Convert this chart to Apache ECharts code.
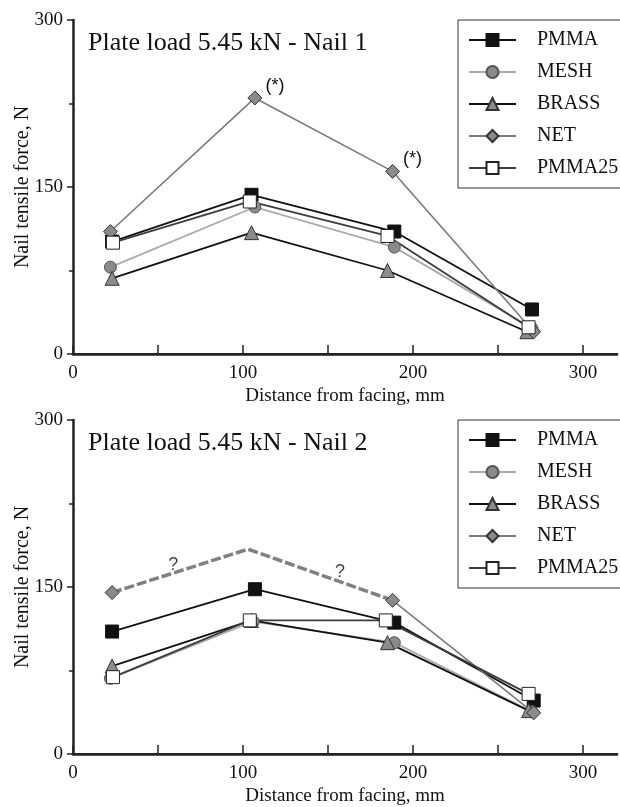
<!DOCTYPE html>
<html>
<head>
<meta charset="utf-8">
<script src="https://cdn.jsdelivr.net/npm/echarts@6/dist/echarts.min.js"></script>
<style>
  html, body { margin: 0; padding: 0; background: #fff; }
  #chart { width: 620px; height: 807px; }
</style>
</head>
<body>
<div id="chart"></div>
<script>
// legend order
const seriesNames = ['PMMA', 'MESH', 'BRASS', 'NET', 'PMMA25'];

// Nail 1 : [distance from facing (mm), nail tensile force (N)]
const pmma1 = [[23, 101], [105, 143], [189, 110], [270, 40]];
const mesh1 = [[22, 78], [107, 132], [189, 96], [270, 23]];
const brass1 = [[23, 68], [105, 109], [185, 75], [267, 20]];
const net1 = [[22, 110], [107, 230], [188, 164], [271, 20]];
const pmma25_1 = [[23.5, 100], [104, 137], [185, 106], [268, 24]];
const net1Starred = [1, 2]; // points marked (*)

// Nail 2
const pmma2 = [[23, 110], [107, 148], [189, 118], [271, 48]];
const mesh2 = [[22, 68], [106, 119], [189, 100], [270, 38]];
const brass2 = [[23, 79], [105, 120], [185, 100], [268, 39]];
const net2 = [[23, 145], [188, 138], [271, 37]];
const net2Guess = [[23, 145], [103, 184], [188, 138]]; // dashed "?" estimate
const pmma25_2 = [[23.5, 69], [104, 120], [184, 120], [268, 54]];
const questionMarks = [[59, 170], [157, 163]];

const titles = ['Plate load 5.45 kN - Nail 1', 'Plate load 5.45 kN - Nail 2'];
const xTicks = [0, 50, 100, 150, 200, 250, 300];
const xLabels = [0, 100, 200, 300];
const yLabels = [0, 150, 300];
const yMinor = [75, 225];

const serif = 'Liberation Serif';
const sans = 'Liberation Sans';

const styles = {
  PMMA:   { symbol: 'rect',     size: 13, line: '#111', width: 1.8, fill: '#111', border: '#111' },
  MESH:   { symbol: 'circle',   size: 12, line: '#aaa', width: 1.8, fill: '#8a8a8a', border: '#555' },
  BRASS:  { symbol: 'triangle', size: 14, line: '#111', width: 1.8, fill: '#8c8c8c', border: '#333' },
  NET:    { symbol: 'diamond',  size: 14, line: '#7a7a7a', width: 1.6, fill: '#8a8a8a', border: '#333' },
  PMMA25: { symbol: 'rect',     size: 13, line: '#3c3c3c', width: 1.8, fill: '#fff', border: '#222' }
};

function lineSeries(name, data, g) {
  const st = styles[name];
  return {
    name: name,
    type: 'line',
    xAxisIndex: 2 * g,
    yAxisIndex: 2 * g,
    data: data,
    symbol: st.symbol,
    symbolSize: st.size,
    showAllSymbol: true,
    lineStyle: { color: st.line, width: st.width },
    itemStyle: { color: st.fill, borderColor: st.border, borderWidth: 1 },
    emphasis: { disabled: true }
  };
}

const grids = [];
const xAxes = [];
const yAxes = [];
const legends = [];
const titleList = [];
[20, 420].forEach((top, g) => {
  grids.push({ left: 73, top: top, width: 544, height: 334, outerBoundsMode: 'none' });
  xAxes.push({
    type: 'value', gridIndex: g, min: 0, max: 320,
    name: 'Distance from facing, mm', nameLocation: 'middle', nameGap: 33,
    nameTextStyle: { fontFamily: serif, fontSize: 19, color: '#111' },
    axisLine: { lineStyle: { color: '#222', width: 2.5 } },
    axisTick: { inside: true, length: 9, customValues: xTicks, lineStyle: { color: '#222', width: 1.5 } },
    axisLabel: { customValues: xLabels, margin: 10, fontFamily: serif, fontSize: 19, color: '#111' },
    splitLine: { show: false }
  });
  xAxes.push({
    type: 'value', gridIndex: g, position: 'top', min: 0, max: 320,
    axisLine: { show: true, lineStyle: { color: '#222', width: 2 } },
    axisTick: { show: false }, axisLabel: { show: false }, splitLine: { show: false }
  });
  yAxes.push({
    type: 'value', gridIndex: g, min: 0, max: 300,
    name: 'Nail tensile force, N', nameLocation: 'middle', nameGap: 40, nameMoveOverlap: false,
    nameTextStyle: { fontFamily: serif, fontSize: 20, color: '#111' },
    axisLine: { show: true, lineStyle: { color: '#222', width: 2.5 } },
    axisTick: { show: true, length: 6, customValues: yLabels, lineStyle: { color: '#222', width: 1.5 } },
    axisLabel: { customValues: yLabels, margin: 10, fontFamily: serif, fontSize: 19, color: '#111' },
    splitLine: { show: false }
  });
  yAxes.push({
    type: 'value', gridIndex: g, min: 0, max: 300,
    axisLine: { show: false },
    axisTick: { show: true, inside: true, length: 4, customValues: yMinor, lineStyle: { color: '#222', width: 1.5 } },
    axisLabel: { show: false }, splitLine: { show: false }
  });
  legends.push({
    data: seriesNames, orient: 'vertical', left: 458, top: top,
    padding: [10, 40, 10, 10], itemWidth: 47, itemHeight: 15, itemGap: 12,
    borderColor: '#333', borderWidth: 1, selectedMode: false,
    textStyle: { fontFamily: serif, fontSize: 20, color: '#111', lineHeight: 20, padding: [0, 0, 0, 16] }
  });
  titleList.push({
    text: titles[g], left: 88, top: top + 10, padding: 0,
    textStyle: { fontFamily: serif, fontSize: 26, fontWeight: 'normal', color: '#111' }
  });
});

const net1Data = net1.map((p, i) => net1Starred.includes(i)
  ? { value: p, label: { show: true, formatter: '(*)', position: 'right', offset: [-2, -12],
      fontFamily: sans, fontSize: 18, color: '#111' } }
  : p);

// break NET line where only the estimate exists
const net2Data = [net2[0], [net2Guess[1][0], '-'], net2[1], net2[2]];

const series = [
  lineSeries('PMMA', pmma1, 0),
  lineSeries('MESH', mesh1, 0),
  lineSeries('BRASS', brass1, 0),
  lineSeries('NET', net1Data, 0),
  lineSeries('PMMA25', pmma25_1, 0),
  {
    name: 'NET estimate', type: 'line', xAxisIndex: 2, yAxisIndex: 2, data: net2Guess,
    symbol: 'none', lineStyle: { color: '#808080', width: 3.5, type: [10, 3] }, emphasis: { disabled: true }
  },
  {
    name: 'question', type: 'scatter', xAxisIndex: 2, yAxisIndex: 2, data: questionMarks,
    symbolSize: 1, itemStyle: { color: 'rgba(0,0,0,0)' }, silent: true,
    label: { show: true, formatter: '?', position: 'inside', fontFamily: sans, fontSize: 18, color: '#111' }
  },
  lineSeries('PMMA', pmma2, 1),
  lineSeries('MESH', mesh2, 1),
  lineSeries('BRASS', brass2, 1),
  lineSeries('NET', net2Data, 1),
  lineSeries('PMMA25', pmma25_2, 1)
];

const chart = echarts.init(document.getElementById('chart'));
chart.setOption({
  animation: false,
  title: titleList,
  legend: legends,
  grid: grids,
  xAxis: xAxes,
  yAxis: yAxes,
  series: series
});
</script>
</body>
</html>
